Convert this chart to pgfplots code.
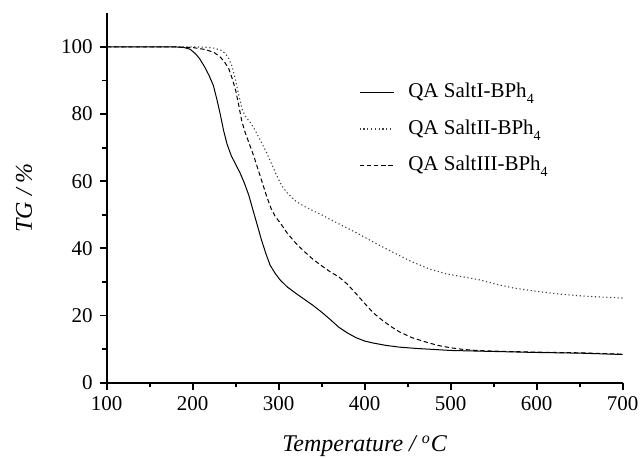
\documentclass[border=0pt]{standalone}
\usepackage{fontspec}
\setmainfont{Liberation Serif}
\usepackage{pgfplots}
\pgfplotsset{compat=1.18}
\newcommand{\sub}[1]{\raisebox{-3pt}{\fontsize{7}{8}\selectfont #1}}
\begin{document}
\begin{tikzpicture}
\path[use as bounding box] (-53.35pt,-37.65pt) rectangle (266.65pt,191.35pt);
\begin{axis}[
 scale only axis, width=258pt, height=184.7pt,
 at={(0,0)}, anchor=south west,
 xmin=100, xmax=700, ymin=0, ymax=110,
 axis x line*=bottom, axis y line*=left,
 axis line style={line width=0.9pt, -},
 xtick={100,200,...,700}, ytick={0,20,...,100},
 minor x tick num=1, minor y tick num=1,
 tick align=outside,
 major tick length=3.5pt, minor tick length=2.3pt,
 every tick/.style={black, line width=0.9pt},
 tick label style={font=\fontsize{10.5}{12}\selectfont},
 /pgf/number format/assume math mode=true,
 xlabel={\textit{Temperature / \textsuperscript{o}C}},
 ylabel={\textit{TG / \%}},
 label style={font=\fontsize{12}{14}\selectfont},
 xlabel style={at={(axis description cs:0.5,-0.187)}, anchor=base},
 ylabel style={at={(axis description cs:-0.160,0.5)}, anchor=center},
 legend style={draw=none, fill=none, at={(axis cs:393,90.4)}, anchor=north west,
   font=\fontsize{10.5}{12}\selectfont, inner sep=0pt, row sep=5.25pt,
   nodes={text height=8pt, text depth=3pt, inner sep=1pt},
   /tikz/every odd column/.style={column sep=6pt}},
 legend cell align=left,
]
\addplot[black, line width=0.5pt] coordinates {
(100,100) (150,100) (180,100) (190,99.8) (197,99.3) (203,98.0) (208,96.5) (214,94.0) (219,91.5) (224,88.5) (228,84.5) (232,80) (236,75) (240,71) (245,67.5) (250,65) (255,62.5) (260,59.5) (265,56) (270,51.5) (275,47) (280,42.5) (285,38.5) (290,35) (296,32.5) (302,30.5) (310,28.5) (320,26.6) (330,24.8) (340,23) (350,21) (360,18.8) (370,16.5) (380,14.8) (390,13.4) (400,12.4) (410,11.8) (425,11.1) (440,10.6) (460,10.2) (480,9.9) (500,9.6) (550,9.3) (600,9.0) (650,8.8) (700,8.4)
};
\addlegendentry{QA SaltI-BPh\sub{4}}
\addplot[black!75, line width=0.55pt, dash pattern=on 0.6pt off 1.3pt] coordinates {
(100,100) (200,100) (215,99.9) (225,99.6) (233,99) (238,98) (242,96.5) (246,94) (249,91) (252,87.5) (255,84) (258,81) (262,79) (267,77.5) (273,75) (279,72) (286,68.5) (292,65) (298,61.5) (304,58.5) (310,56.5) (320,54) (330,52.5) (340,51.2) (350,50) (360,48.6) (370,47.3) (380,46) (390,44.7) (400,43.3) (418,40.8) (437,38.3) (455,36) (476,33.8) (495,32.4) (515,31.5) (534,30.6) (555,29.2) (573,28.2) (600,27.2) (630,26.3) (660,25.7) (700,25.2)
};
\addlegendentry{QA SaltII-BPh\sub{4}}
\addplot[black, line width=0.5pt, dash pattern=on 2.2pt off 1.4pt] coordinates {
(100,100) (180,100) (200,99.8) (215,99.2) (225,98.3) (232,97) (237,95.5) (242,93.5) (246,90.5) (250,87) (254,82) (257,78) (261,74.5) (266,71) (271,67.5) (276,63.5) (281,59.5) (286,55.5) (291,52) (296,49.5) (302,47.5) (310,44.5) (320,41.5) (330,39) (340,36.7) (350,34.8) (360,33) (370,31.5) (380,29.3) (390,26.5) (400,23.6) (410,20.8) (420,18.7) (430,16.8) (440,15.2) (455,13.4) (470,12.2) (485,11.1) (500,10.4) (515,9.9) (530,9.6) (550,9.4) (600,9.1) (650,8.9) (700,8.5)
};
\addlegendentry{QA SaltIII-BPh\sub{4}}
\end{axis}
\end{tikzpicture}
\end{document}
